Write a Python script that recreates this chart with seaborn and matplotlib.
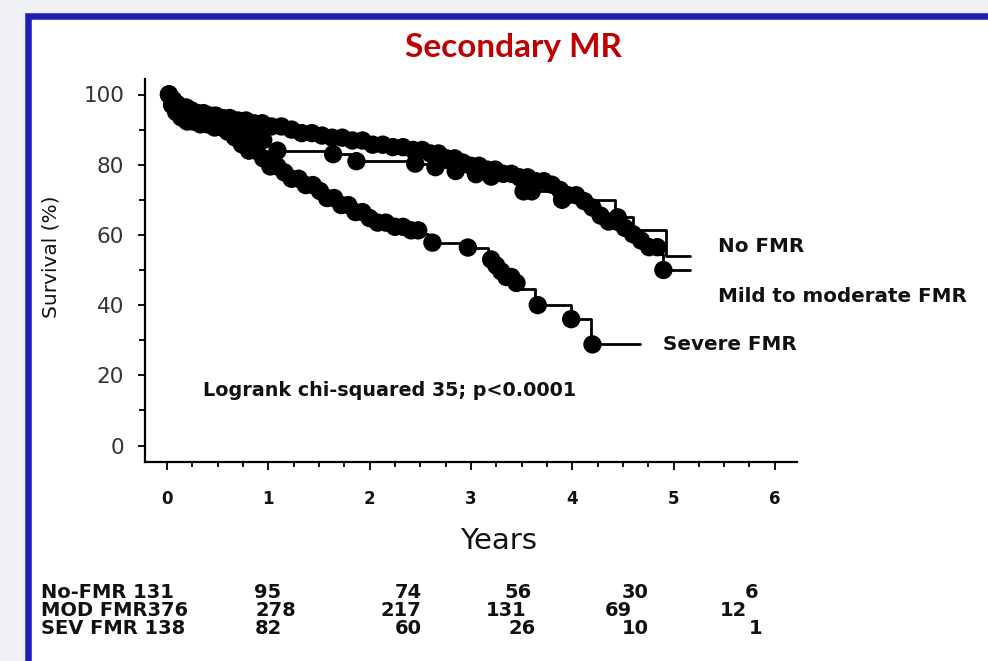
import numpy as np
import pandas as pd
import matplotlib
matplotlib.use("Agg")
import matplotlib.pyplot as plt
import seaborn as sns
from matplotlib.patches import Rectangle
from matplotlib.ticker import MultipleLocator

# ---- Kaplan-Meier estimates: event times (years) and survival (%) after each event
no_fmr_t = [0, 0.04, 0.1, 0.2, 0.32, 0.45, 0.58, 0.7, 0.8, 0.9, 1.0, 1.07, 1.62, 1.85,
            2.4, 2.6, 2.8, 3.0, 3.18, 3.5, 3.84, 4.42, 4.6, 4.93]
no_fmr_s = [100, 97.5, 96, 94.5, 93.3, 92.3, 91.2, 90, 88.6, 87, 85.5, 84, 83, 81,
            80.3, 79.3, 78.2, 77.3, 76.6, 72.4, 70, 65, 61.5, 54]
no_fmr_end = 5.16
no_fmr_cens = [0.02, 0.06, 0.12, 0.18, 0.25, 0.35, 0.5, 0.62, 0.75, 0.85, 0.95, 1.09,
               1.64, 1.87, 2.45, 2.65, 2.85, 3.05, 3.2, 3.52, 3.6, 3.9, 4.45]

mild_t = [0, 0.03, 0.07, 0.12, 0.2, 0.3, 0.42, 0.55, 0.7, 0.85, 1.0, 1.15, 1.3, 1.45,
          1.6, 1.8, 2.0, 2.2, 2.4, 2.55, 2.7, 2.85, 3.0, 3.15, 3.3, 3.45, 3.6, 3.75,
          3.85, 3.95, 4.05, 4.15, 4.25, 4.35, 4.45, 4.55, 4.65, 4.75, 4.85, 4.9]
mild_s = [100, 98.5, 97.3, 96.3, 95.5, 94.7, 94, 93.3, 92.6, 91.8, 90.9, 90, 89, 88.3,
          87.7, 86.9, 85.7, 85, 84.2, 83.2, 81.8, 80.6, 79.7, 78.6, 77.4, 76.4, 75.3, 74.3,
          72.8, 71.3, 69.6, 67.8, 65.5, 63.8, 62, 60.2, 58.4, 56.5, 54.5, 50]
mild_end = 5.16
mild_cens = [0.02, 0.06, 0.1, 0.14, 0.19, 0.24, 0.3, 0.36, 0.42, 0.48, 0.55, 0.62, 0.7,
             0.78, 0.86, 0.94, 1.03, 1.13, 1.23, 1.33, 1.43, 1.53, 1.63, 1.73, 1.83, 1.93,
             2.03, 2.13, 2.23, 2.33, 2.43, 2.52, 2.6, 2.68, 2.76, 2.84, 2.92, 3.0, 3.08,
             3.16, 3.24, 3.32, 3.4, 3.48, 3.56, 3.64, 3.72, 3.8, 3.88, 3.96, 4.04, 4.12,
             4.2, 4.28, 4.36, 4.44, 4.52, 4.6, 4.68, 4.76, 4.84, 4.9]

severe_t = [0, 0.03, 0.07, 0.12, 0.18, 0.3, 0.45, 0.55, 0.63, 0.72, 0.8, 0.9, 1.0, 1.1,
            1.2, 1.32, 1.45, 1.58, 1.7, 1.82, 1.95, 2.08, 2.22, 2.36, 2.5, 2.58, 2.94,
            3.17, 3.23, 3.29, 3.35, 3.41, 3.47, 3.63, 3.99, 4.19]
severe_s = [100, 97, 95, 93.5, 92.3, 91.5, 90.6, 89.4, 87.8, 85.8, 84, 81.8, 79.5, 77.8,
            76, 74.2, 72.5, 70.5, 68.5, 66.5, 64.8, 63.5, 62.3, 61.3, 60.2, 57.8, 56.4,
            53, 51.3, 49.6, 48, 46.3, 44.7, 40, 36, 28.8]
severe_end = 4.67
severe_cens = [0.02, 0.05, 0.09, 0.14, 0.2, 0.26, 0.33, 0.4, 0.47, 0.54, 0.6, 0.67, 0.74,
               0.81, 0.88, 0.95, 1.02, 1.09, 1.16, 1.23, 1.3, 1.37, 1.44, 1.51, 1.58,
               1.65, 1.72, 1.79, 1.86, 1.93, 2.0, 2.08, 2.16, 2.25, 2.33, 2.41, 2.48,
               2.62, 2.97, 3.2, 3.25, 3.3, 3.35, 3.4, 3.45, 3.66, 3.99, 4.2]

group_names = ["No FMR", "Mild to moderate FMR", "Severe FMR"]

# ---- numbers at risk
risk_labels = ["No-FMR 131", "MOD FMR376", "SEV FMR 138"]
risk_no_fmr = [95, 74, 56, 30, 6]
risk_mod_fmr = [278, 217, 131, 69, 12]
risk_sev_fmr = [82, 60, 26, 10, 1]

# ---- build long-form tables
curves = [(no_fmr_t, no_fmr_s, no_fmr_end, no_fmr_cens),
          (mild_t, mild_s, mild_end, mild_cens),
          (severe_t, severe_s, severe_end, severe_cens)]
line_rows, cens_rows = [], []
for name, (t, s, end, cens) in zip(group_names, curves):
    tt = list(t) + [end]
    ss = list(s) + [s[-1]]
    line_rows.append(pd.DataFrame({"time": tt, "survival": ss, "group": name}))
    idx = np.searchsorted(np.asarray(t), np.asarray(cens), side="right") - 1
    cens_rows.append(pd.DataFrame({"time": cens, "survival": np.asarray(s)[idx], "group": name}))
lines_df = pd.concat(line_rows, ignore_index=True)
cens_df = pd.concat(cens_rows, ignore_index=True)

# ---- figure
W, H = 988, 661
sns.set_theme(style="white")
fig = plt.figure(figsize=(W / 100, H / 100), dpi=100, facecolor="#eef0f5")

def fx(px):
    return px / W

def fy(py):
    return 1 - py / H

# white slide panel with blue frame
fig.patches.append(Rectangle((fx(27.5), fy(700)), 1.2, fy(16) - fy(700),
                             transform=fig.transFigure, facecolor="white",
                             edgecolor="#1f1fb4", linewidth=4.7, zorder=-5))

ax_l, ax_r, ax_t, ax_b = 145, 797, 79, 462
ax = fig.add_axes([fx(ax_l), fy(ax_b), fx(ax_r - ax_l), fy(ax_t) - fy(ax_b)])
ax.set_facecolor("none")
ax.set_zorder(2)

sns.lineplot(data=lines_df, x="time", y="survival", units="group", estimator=None,
             drawstyle="steps-post", color="black", linewidth=2.0, ax=ax, legend=False)
sns.scatterplot(data=cens_df, x="time", y="survival", color="black", s=175,
                linewidth=0, edgecolor="none", ax=ax, legend=False, zorder=3)

x0_px, x_per_year = 167, 101.3
y0_px, y_per_pct = 445.5, 3.51
ax.set_xlim((ax_l - x0_px) / x_per_year, (ax_r - x0_px) / x_per_year)
ax.set_ylim(-(ax_b - y0_px) / y_per_pct, (y0_px - ax_t) / y_per_pct)

for side in ["top", "right"]:
    ax.spines[side].set_visible(False)
for side in ["left", "bottom"]:
    ax.spines[side].set_color("black")
    ax.spines[side].set_linewidth(1.6)

ax.xaxis.set_major_locator(MultipleLocator(1))
ax.xaxis.set_minor_locator(MultipleLocator(0.25))
ax.yaxis.set_major_locator(MultipleLocator(20))
ax.yaxis.set_minor_locator(MultipleLocator(10))
ax.tick_params(axis="both", which="both", direction="out", color="black", width=1.3,
               bottom=True, left=True)
ax.tick_params(axis="x", which="major", length=6, pad=14)
ax.tick_params(axis="x", which="minor", length=3.5)
ax.tick_params(axis="y", which="major", length=5, pad=10)
ax.tick_params(axis="y", which="minor", length=4)
for lab in ax.get_yticklabels():
    lab.set_fontfamily("DejaVu Sans")
    lab.set_fontsize(15.5)
    lab.set_color("#333333")
for lab in ax.get_xticklabels():
    lab.set_fontfamily("DejaVu Sans")
    lab.set_fontweight("bold")
    lab.set_fontsize(12)
    lab.set_color("#111111")
ax.set_xlabel("")
ax.set_ylabel("")

# titles and axis labels
fig.text(fx(513), fy(48), "Secondary MR", ha="center", va="center", color="#c00000",
         fontsize=24, fontweight="bold", family="Lato")
fig.text(fx(51), fy(257), "Survival (%)", ha="center", va="center", rotation=90,
         fontsize=14.5, family="DejaVu Sans", color="#111111")
fig.text(fx(499), fy(541), "Years", ha="center", va="center",
         fontsize=21, family="DejaVu Sans", color="#111111")

# curve labels and test statistic
bold_kw = dict(family="DejaVu Sans", fontweight="bold", color="#111111", va="center", ha="left")
fig.text(fx(718), fy(247), group_names[0], fontsize=14.3, **bold_kw)
fig.text(fx(718), fy(297), group_names[1], fontsize=14.3, **bold_kw)
fig.text(fx(663), fy(344), group_names[2], fontsize=14.3, **bold_kw)
fig.text(fx(203), fy(390), "Logrank chi-squared 35; p<0.0001", fontsize=13.8, **bold_kw)

# numbers-at-risk table
row_y = [592, 610, 628]
col_x = [[268, 408, 518, 635, 752],
         [276, 401, 506, 618, 733],
         [268, 408, 522, 635, 756]]
for r, (label, counts) in enumerate(zip(risk_labels, [risk_no_fmr, risk_mod_fmr, risk_sev_fmr])):
    fig.text(fx(41), fy(row_y[r]), label, fontsize=14, **bold_kw)
    for c, n in enumerate(counts):
        fig.text(fx(col_x[r][c]), fy(row_y[r]), str(n), fontsize=14, family="DejaVu Sans",
                 fontweight="bold", color="#111111", va="center", ha="center")

fig.savefig("out.png", dpi=100, facecolor=fig.get_facecolor())
